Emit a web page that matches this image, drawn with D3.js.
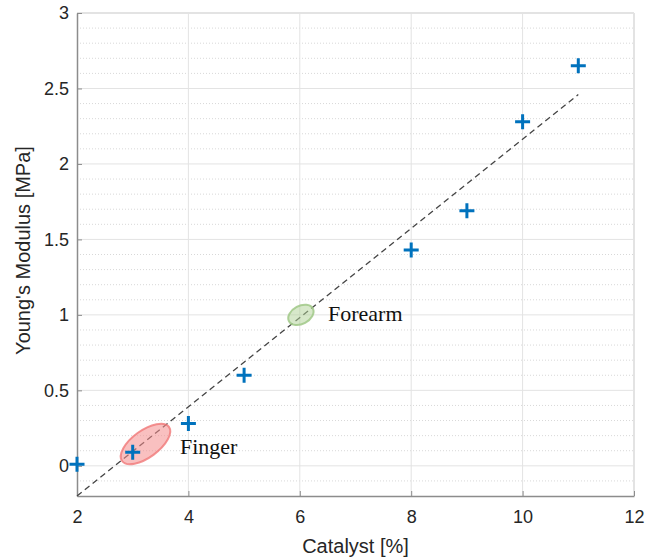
<!DOCTYPE html>
<html>
<head>
<meta charset="utf-8">
<script src="https://cdn.jsdelivr.net/npm/d3@7"></script>
<style>
  body { margin: 0; background: #fff; }
  svg { display: block; }
</style>
</head>
<body>
<div id="chart"></div>
<script>
// 数据
const catalyst = [2, 3, 4, 5, 8, 9, 10, 11];
const modulus = [0.01, 0.09, 0.28, 0.60, 1.43, 1.69, 2.28, 2.65];

// 线性拟合端点
const fitX = [2, 11];
const fitY = [-0.2, 2.46];

const xTicks = [2, 4, 6, 8, 10, 12];
const yTicks = [0, 0.5, 1, 1.5, 2, 2.5, 3];

// 标注区域
const zoneNames = ["Finger", "Forearm"];
const zoneX = [3.23, 6.02];
const zoneY = [0.145, 1.0];

const width = 658, height = 559;
const margin = { left: 77, right: 24, top: 13, bottom: 63 };

const svg = d3.select("#chart").append("svg")
  .attr("width", width)
  .attr("height", height);

const x = d3.scaleLinear().domain([2, 12]).range([margin.left, width - margin.right]);
const y = d3.scaleLinear().domain([-0.2, 3]).range([height - margin.bottom, margin.top]);

const x0 = x.range()[0], x1 = x.range()[1];
const y0 = y.range()[0], y1 = y.range()[1];

// 次网格线
const minorY = d3.range(-1, 30).map(i => i / 10)
  .filter(v => !yTicks.includes(Math.round(v * 10) / 10));
svg.append("g").selectAll("line")
  .data(minorY)
  .join("line")
  .attr("x1", x0).attr("x2", x1)
  .attr("y1", d => y(d)).attr("y2", d => y(d))
  .attr("stroke", "#d8d8d8")
  .attr("stroke-width", 1)
  .attr("stroke-dasharray", "1,2");

// 主网格线
svg.append("g").selectAll("line")
  .data(yTicks)
  .join("line")
  .attr("x1", x0).attr("x2", x1)
  .attr("y1", d => y(d)).attr("y2", d => y(d))
  .attr("stroke", "#e3e3e3")
  .attr("stroke-width", d => d === 3 ? 2 : 1);

svg.append("g").selectAll("line")
  .data(xTicks.slice(1))
  .join("line")
  .attr("x1", d => x(d)).attr("x2", d => x(d))
  .attr("y1", y0).attr("y2", y1)
  .attr("stroke", "#e3e3e3")
  .attr("stroke-width", d => d === 12 ? 2 : 1);

// 坐标轴
const fmt = d3.format("~g");
const xAxis = svg.append("g")
  .attr("transform", `translate(0,${y0})`)
  .call(d3.axisBottom(x).tickValues(xTicks).tickFormat(fmt).tickSize(-5).tickSizeOuter(0).tickPadding(14));
const yAxis = svg.append("g")
  .attr("transform", `translate(${x0},0)`)
  .call(d3.axisLeft(y).tickValues(yTicks).tickFormat(fmt).tickSize(-5).tickSizeOuter(0).tickPadding(8));

[xAxis, yAxis].forEach(ax => {
  ax.select(".domain").attr("stroke", "#8c8c8c").attr("stroke-width", 1.5);
  ax.selectAll(".tick line").attr("stroke", "#8c8c8c");
  ax.selectAll(".tick text")
    .attr("fill", "#262626")
    .style("font-family", "'Liberation Sans', Arial, sans-serif")
    .style("font-size", "18px");
});

// 轴标题
svg.append("text")
  .attr("x", (x0 + x1) / 2)
  .attr("y", 553)
  .attr("text-anchor", "middle")
  .attr("fill", "#262626")
  .style("font-family", "'Liberation Sans', Arial, sans-serif")
  .style("font-size", "20px")
  .text("Catalyst [%]");

svg.append("text")
  .attr("transform", `translate(30,${(y0 + y1) / 2 - 4}) rotate(-90)`)
  .attr("text-anchor", "middle")
  .attr("fill", "#262626")
  .style("font-family", "'Liberation Sans', Arial, sans-serif")
  .style("font-size", "20px")
  .text("Young's Modulus [MPa]");

// 拟合线
svg.append("line")
  .attr("x1", x(fitX[0])).attr("y1", y(fitY[0]))
  .attr("x2", x(fitX[1])).attr("y2", y(fitY[1]))
  .attr("stroke", "#444")
  .attr("stroke-width", 1.3)
  .attr("stroke-dasharray", "6,4");

// 标注椭圆
const zoneStyle = [
  { rx: 29, ry: 13.5, rot: 36, fill: "rgba(244,140,140,0.55)", stroke: "rgba(240,120,120,0.8)" },
  { rx: 13.5, ry: 9, rot: 28, fill: "rgba(175,210,150,0.5)", stroke: "rgba(160,200,135,0.85)" }
];
svg.append("g").selectAll("ellipse")
  .data(zoneNames)
  .join("ellipse")
  .attr("transform", (d, i) => `translate(${x(zoneX[i])},${y(zoneY[i])}) rotate(${-zoneStyle[i].rot})`)
  .attr("rx", (d, i) => zoneStyle[i].rx)
  .attr("ry", (d, i) => zoneStyle[i].ry)
  .attr("fill", (d, i) => zoneStyle[i].fill)
  .attr("stroke", (d, i) => zoneStyle[i].stroke)
  .attr("stroke-width", 2);

// 标注文字
const labelPos = [[180, 454], [328, 321]];
svg.append("g").selectAll("text")
  .data(zoneNames)
  .join("text")
  .attr("x", (d, i) => labelPos[i][0])
  .attr("y", (d, i) => labelPos[i][1])
  .attr("fill", "#111")
  .style("font-family", "'Liberation Serif', 'Times New Roman', serif")
  .style("font-size", "22px")
  .text(d => d);

// 数据点（十字标记）
svg.append("g").selectAll("path")
  .data(catalyst.map((c, i) => ({ c, m: modulus[i] })))
  .join("path")
  .attr("d", d => {
    const cx = x(d.c), cy = y(d.m), r = 7.5;
    return `M${cx - r},${cy}H${cx + r}M${cx},${cy - r}V${cy + r}`;
  })
  .attr("stroke", "#0072BD")
  .attr("stroke-width", 3)
  .attr("fill", "none");
</script>
</body>
</html>
